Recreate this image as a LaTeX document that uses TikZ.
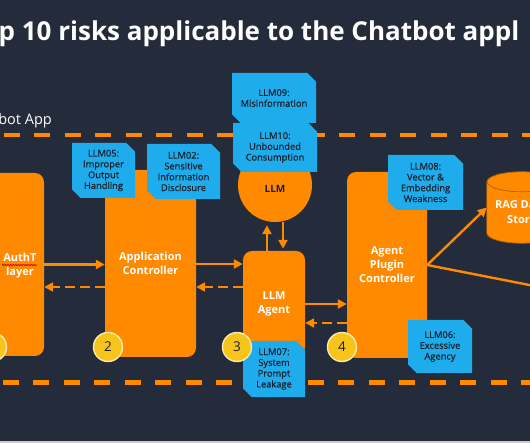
\documentclass[tikz,border=0pt]{standalone}
\usepackage{fontspec}
\setmainfont{Open Sans}
\newfontfamily\tagfont[FakeBold=0.6]{Open Sans}
\usepackage{tikz}
\usetikzlibrary{positioning}
\usetikzlibrary{arrows.meta,shapes}
\usetikzlibrary{shapes.geometric,shapes.misc}
\usetikzlibrary{calc,decorations.pathmorphing}
\definecolor{squid}{RGB}{36,43,59}
\definecolor{awsorange}{RGB}{255,138,0}
\definecolor{riskblue}{RGB}{30,172,236}
\definecolor{gold}{RGB}{247,196,27}
\definecolor{goldrim}{RGB}{250,233,175}
\definecolor{ink}{RGB}{27,31,42}
\tikzstyle{block}=[rectangle,rounded corners=9pt,fill=awsorange,inner sep=0pt]
\tikzstyle{blocktext}=[text=white,font=\fontsize{11}{14}\selectfont\bfseries,align=center]
\tikzstyle{risk}=[chamfered rectangle,chamfered rectangle corners={north east,south west},chamfered rectangle xsep=5pt,fill=riskblue,text=ink,inner sep=0pt,align=center,font=\tagfont\fontsize{9.3}{10.8}\selectfont]
\tikzstyle{badge}=[circle,fill=gold,draw=goldrim,line width=1.4pt,minimum size=29pt,inner sep=0pt,text=ink,font=\fontsize{13.5}{14}\selectfont]
\tikzstyle{flow}=[draw,awsorange,line width=2.4pt,-{Triangle[length=9pt,width=9pt]}]
\tikzstyle{reply}=[flow,dash pattern=on 10pt off 5pt]
\tikzstyle{boundary}=[draw,awsorange,line width=4.5pt,dash pattern=on 16pt off 14.5pt]
\tikzstyle{rim}=[draw=awsorange!72!black,line width=0.8pt]

\begin{document}
\begin{tikzpicture}[x=1pt,y=-1pt]

    \useasboundingbox (0,0) rectangle (530,443);
    \clip (0,0) rectangle (530,443);
    \fill[squid] (0,0) rectangle (530,443);
    \fill[black!20] (0,440.5) rectangle (530,443);

% Title
    \node[anchor=base west,inner sep=0pt,text=white,font=\fontsize{26}{30}\selectfont\bfseries] (title) at (-1.5,41) {p 10 risks applicable to the Chatbot appl};
    \node[anchor=base east,inner sep=0pt,text=white,font=\fontsize{14.5}{17}\selectfont] (applabel) at (52,125) {bot App};

% Boundary
    \draw[boundary] (3.5,135) -- (545,135);
    \draw[boundary] (2.7,382.5) -- (545,382.5);

% Blocks
    \foreach \pos/\name/\w/\h/\txt in {{(0,264.5)/auth/88/183/{}}, {(150.5,263.5)/app/91/187/{Application\\Controller}}, {(274,303.5)/agent/62/105/{LLM\\Agent}}, {(387,265)/plugin/80/186/{Agent\\Plugin\\Controller}}}
        \node[block,blocktext,minimum width=\w pt,minimum height=\h pt] (\name) at \pos {\txt};
    \node[blocktext] (authtext) at (20,265.5) {AuthT\\layer};
    \draw[red!85!black,line width=0.7pt,decorate,decoration={snake,amplitude=0.7pt,segment length=2.6pt}] (2,265) -- (37,265);

% LLM and RAG store
    \node[circle,fill=awsorange,minimum size=74pt,inner sep=0pt,label={[text=ink,font=\fontsize{10}{12}\selectfont\bfseries,yshift=-4pt]center:LLM}] (llm) at (275,185) {};
    \node[inner sep=0pt,minimum width=70pt,minimum height=71pt] (rag) at (522,207.5) {};
    \fill[awsorange] ($(rag.north west)+(0,10)$) rectangle ($(rag.south east)+(0,-10)$);
    \fill[awsorange] ($(rag.south)+(0,-10)$) ellipse (35 and 10);
    \path[rim] ($(rag.north west)+(0,10)$) -- ($(rag.south west)+(0,-10)$) arc (180:0:35 and 10) -- ($(rag.north east)+(0,10)$);
    \path[rim,fill=awsorange] ($(rag.north)+(0,10)$) ellipse (35 and 10);
    \node[blocktext,anchor=west,inner sep=0pt] (ragtop) at (495,205) {RAG Da};
    \node[blocktext,anchor=west,inner sep=0pt] (ragbottom) at (507,220) {Stor};

% Edges
    \foreach \source/\dest/\dy in {auth/app/0, app/agent/0.5, agent/plugin/0.5}{
        \coordinate (s) at ($(\source.east)+(0,\dy)$);
        \path[flow] (s) -- (s -| \dest.west);
    }
    \foreach \source/\dest/\dy in {app/auth/23.5, agent/app/-16.5, plugin/agent/58}{
        \coordinate (s) at ($(\source.west)+(0,\dy)$);
        \path[reply] (s) -- (s -| \dest.east);
    }
    \coordinate (up) at ($(agent.north)+(-7,0)$);
    \coordinate (down) at ($(agent.north)+(9,0)$);
    \path[flow,shorten >=3pt] (up) -- (up |- llm.south);
    \path[flow,shorten >=2pt] (down |- llm.south) -- (down);
    \path[flow] (plugin.east) -- (rag.west);
    \coordinate (offedge) at (560,291);
    \path[flow] (plugin.east) -- (offedge);

% Risks
    \foreach \pos/\name/\w/\h/\txt in {
        {(274,98)/llm09/84/50/{LLM09:\\Misinformation}},
        {(275,147.5)/llm10/84/49/{LLM10:\\Unbounded\\Consumption}},
        {(103.5,170.5)/llm05/63/55/{LLM05:\\Improper\\Output\\Handling}},
        {(183.5,171.5)/llm02/73/55/{LLM02:\\Sensitive\\Information\\Disclosure}},
        {(425.5,182.5)/llm08/75/55/{LLM08:\\Vector \&\\Embedding\\Weakness}},
        {(440,346.5)/llm06/64/53/{LLM06:\\Excessive\\Agency}},
        {(274,369)/llm07/62/56/{LLM07:\\System\\Prompt\\Leakage}}}
        \node[risk,minimum width=\w pt,minimum height=\h pt] (\name) at \pos {\txt};

% Steps
    \foreach \pos/\name/\num in {{(-8,347)/b1/}, {(108,347)/b2/2}, {(237,347)/b3/3}, {(342,347)/b4/4}}
        \node[badge] (\name) at \pos {\num};

\end{tikzpicture}
\end{document}
